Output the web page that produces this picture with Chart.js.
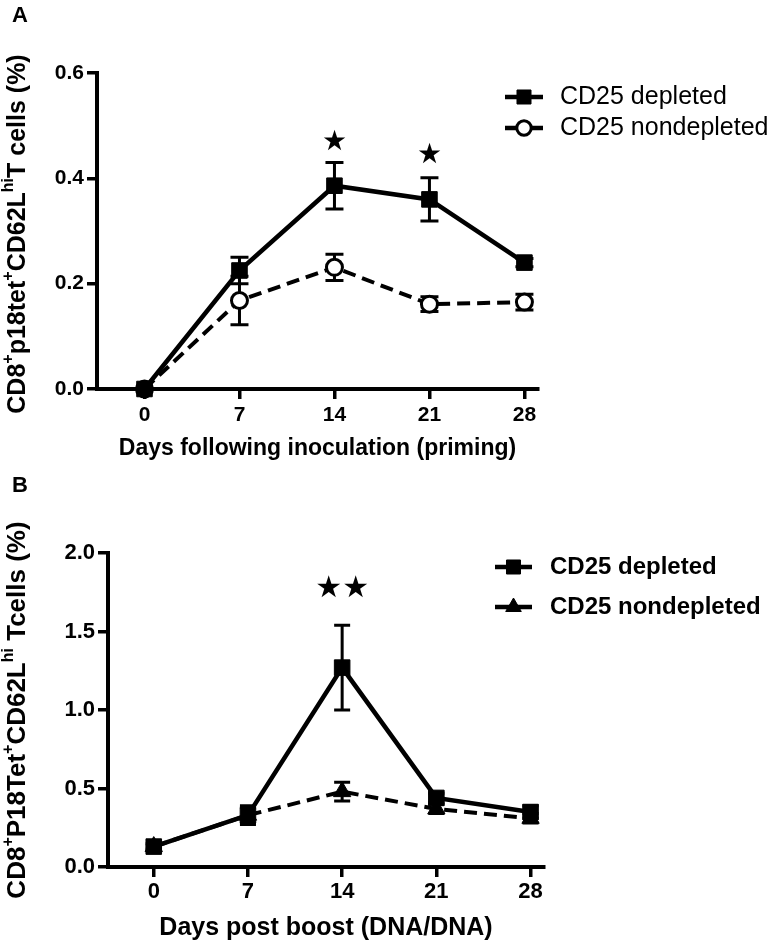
<!DOCTYPE html>
<html>
<head>
<meta charset="utf-8">
<script src="https://cdn.jsdelivr.net/npm/chart.js@4.4.1/dist/chart.umd.min.js"></script>
<style>
  body { margin: 0; background: #fff; }
  .panel { position: absolute; left: 0; width: 784px; }
  #panelA { top: 0; height: 470px; }
  #panelB { top: 470px; height: 477px; }
</style>
</head>
<body>
<div class="panel" id="panelA"><canvas id="chartA"></canvas></div>
<div class="panel" id="panelB"><canvas id="chartB"></canvas></div>
<script>
// shared x categories
const days = [0, 7, 14, 21, 28];
const seriesNames = ['CD25 depleted', 'CD25 nondepleted'];

// panel A (priming)
const depletedA = [0.0, 0.225, 0.386, 0.36, 0.24];
const depletedAErr = [0, 0.025, 0.044, 0.041, 0.008];
const nondepletedA = [0.0, 0.168, 0.231, 0.161, 0.165];
const nondepletedAErr = [0, 0.046, 0.025, 0.014, 0.015];
const yTicksA = [0, 0.2, 0.4, 0.6];
const starDaysA = [14, 21];
const starLevelA = [0.468, 0.443];
const starCountA = [1, 1];

// panel B (boost)
const depletedB = [0.13, 0.33, 1.27, 0.44, 0.35];
const depletedBErr = [0.02, 0.06, 0.27, 0.03, 0.04];
const nondepletedB = [0.13, 0.33, 0.48, 0.37, 0.31];
const nondepletedBErr = [0.01, 0.05, 0.06, 0.03, 0.03];
const yTicksB = [0, 0.5, 1.0, 1.5, 2.0];
const starDaysB = [14];
const starLevelB = [1.77];
const starCountB = [2];

const FONT = "'Liberation Sans', Arial, sans-serif";

function pts(vals) {
    return days.map((d, i) => ({ x: d, y: vals[i] }));
}

// error bars, stars, legend, rotated y title with superscripts, panel letter
function makeDecor(cfg) {
    return {
        id: 'decor',
        beforeDatasetsDraw(chart) {
            const { ctx, scales: { x, y } } = chart;
            ctx.save();
            ctx.strokeStyle = '#000';
            ctx.lineWidth = 3;
            chart.data.datasets.forEach((ds, di) => {
                const err = cfg.errors[di];
                ds.data.forEach((p, i) => {
                    if (!err[i]) return;
                    const px = x.getPixelForValue(p.x);
                    const top = y.getPixelForValue(p.y + err[i]);
                    const bot = y.getPixelForValue(p.y - err[i]);
                    ctx.beginPath();
                    ctx.moveTo(px, top); ctx.lineTo(px, bot);
                    ctx.moveTo(px - cfg.cap, top); ctx.lineTo(px + cfg.cap, top);
                    ctx.moveTo(px - cfg.cap, bot); ctx.lineTo(px + cfg.cap, bot);
                    ctx.stroke();
                });
            });
            ctx.restore();
        },
        afterDraw(chart) {
            const { ctx, scales: { x, y } } = chart;
            ctx.save();
            ctx.fillStyle = '#000';

            // significance stars
            ctx.font = cfg.starSize + "px 'DejaVu Sans'";
            ctx.textAlign = 'center';
            ctx.textBaseline = 'middle';
            cfg.stars.days.forEach((d, i) => {
                const n = cfg.stars.count[i];
                const px = x.getPixelForValue(d);
                const py = y.getPixelForValue(cfg.stars.level[i]);
                for (let k = 0; k < n; k++) {
                    ctx.fillText('★', px + (k - (n - 1) / 2) * cfg.starGap, py);
                }
            });

            // legend
            const lg = cfg.legend;
            chart.data.datasets.forEach((ds, i) => {
                const ly = lg.rows[i];
                ctx.strokeStyle = '#000';
                ctx.lineWidth = 4.5;
                ctx.setLineDash([]);
                ctx.beginPath();
                ctx.moveTo(lg.x1, ly); ctx.lineTo(lg.x2, ly);
                ctx.stroke();
                ctx.fillStyle = ds.pointBackgroundColor;
                ctx.lineWidth = ds.pointBorderWidth;
                Chart.helpers.drawPoint(ctx, {
                    pointStyle: ds.pointStyle, radius: ds.pointRadius * lg.scale,
                    borderWidth: ds.pointBorderWidth, rotation: 0
                }, (lg.x1 + lg.x2) / 2, ly);
                ctx.fillStyle = '#000';
                ctx.font = lg.font;
                ctx.textAlign = 'left';
                ctx.textBaseline = 'middle';
                ctx.fillText(ds.label, lg.textX, ly);
            });

            // y title (rotated, with superscripts)
            const t = cfg.yTitle;
            const main = 'bold ' + t.size + 'px ' + FONT;
            const sup = 'bold ' + Math.round(t.size * 0.62) + 'px ' + FONT;
            let total = 0;
            t.parts.forEach(([s, isSup]) => { ctx.font = isSup ? sup : main; total += ctx.measureText(s).width; });
            ctx.translate(t.x, t.y);
            ctx.rotate(-Math.PI / 2);
            ctx.textAlign = 'left';
            ctx.textBaseline = 'middle';
            let cx = -total / 2;
            t.parts.forEach(([s, isSup]) => {
                ctx.font = isSup ? sup : main;
                ctx.fillText(s, cx, isSup ? -t.size * 0.38 : 0);
                cx += ctx.measureText(s).width;
            });
            ctx.setTransform(1, 0, 0, 1, 0, 0);

            // panel letter
            ctx.font = 'bold 22px ' + FONT;
            ctx.textAlign = 'left';
            ctx.textBaseline = 'middle';
            ctx.fillText(cfg.letter, 12, cfg.letterY);
            ctx.restore();
        }
    };
}

function makeChart(id, p) {
    const H = document.getElementById(id).parentNode.clientHeight;
    return new Chart(document.getElementById(id), {
        type: 'line',
        data: {
            datasets: [{
                label: seriesNames[0],
                data: pts(p.dep),
                borderColor: '#000',
                borderWidth: 4.5,
                pointStyle: 'rect',
                pointRadius: 11,
                pointBackgroundColor: '#000',
                pointBorderColor: '#000',
                pointBorderWidth: 1,
                clip: false
            }, {
                label: seriesNames[1],
                data: pts(p.non),
                borderColor: '#000',
                borderWidth: 4,
                borderDash: [13, 7],
                pointStyle: p.nonStyle,
                pointRadius: p.nonRadius,
                pointBackgroundColor: p.nonFill,
                pointBorderColor: '#000',
                pointBorderWidth: p.nonBorder,
                clip: false
            }]
        },
        options: {
            responsive: true,
            maintainAspectRatio: false,
            animation: false,
            events: [],
            layout: { padding: { left: 0, top: p.top, right: 784 - p.right, bottom: 0 } },
            plugins: { legend: { display: false }, tooltip: { enabled: false } },
            scales: {
                x: {
                    type: 'linear',
                    min: p.xMin,
                    max: p.xMax,
                    afterBuildTicks: s => { s.ticks = days.map(v => ({ value: v })); },
                    afterFit: s => { s.height = H - p.bottom; },
                    grid: { drawOnChartArea: false, drawTicks: true, tickLength: 10, color: '#000', lineWidth: 3.5 },
                    border: { display: true, color: '#000', width: 4 },
                    ticks: { color: '#000', padding: p.xPad, font: { family: FONT, size: p.tickSize, weight: 'bold' } },
                    title: {
                        display: true, text: p.xTitle, color: '#000',
                        padding: { top: 0, bottom: p.xTitlePad },
                        font: { family: FONT, size: p.xTitleSize, weight: 'bold' }
                    }
                },
                y: {
                    type: 'linear',
                    min: 0,
                    max: p.yTicks[p.yTicks.length - 1],
                    afterBuildTicks: s => { s.ticks = p.yTicks.map(v => ({ value: v })); },
                    afterFit: s => { s.width = p.left; },
                    grid: { drawOnChartArea: false, drawTicks: true, tickLength: 10, color: '#000', lineWidth: 3.5 },
                    border: { display: true, color: '#000', width: 4 },
                    ticks: {
                        color: '#000', padding: 3,
                        font: { family: FONT, size: p.tickSize, weight: 'bold' },
                        callback: v => v.toFixed(1)
                    }
                }
            }
        },
        plugins: [makeDecor(p.decor)]
    });
}

makeChart('chartA', {
    dep: depletedA, non: nondepletedA,
    nonStyle: 'circle', nonRadius: 8, nonFill: '#fff', nonBorder: 3,
    yTicks: yTicksA, xMin: -3.5, xMax: 29,
    left: 97, right: 538, top: 73, bottom: 389,
    tickSize: 21, xPad: 4, xTitle: 'Days following inoculation (priming)', xTitleSize: 23, xTitlePad: 8,
    decor: {
        errors: [depletedAErr, nondepletedAErr], cap: 9,
        stars: { days: starDaysA, level: starLevelA, count: starCountA },
        starSize: 28, starGap: 26,
        legend: { x1: 505, x2: 543, textX: 560, rows: [97, 128], scale: 0.9, font: '25px ' + FONT },
        yTitle: {
            x: 18, y: 234, size: 25,
            parts: [['CD8', 0], ['+', 1], ['p18tet', 0], ['+', 1], ['CD62L', 0], ['hi', 1], ['T cells (%)', 0]]
        },
        letter: 'A', letterY: 16
    }
});

makeChart('chartB', {
    dep: depletedB, non: nondepletedB,
    nonStyle: 'triangle', nonRadius: 10, nonFill: '#000', nonBorder: 1,
    yTicks: yTicksB, xMin: -3.4, xMax: 29,
    left: 108, right: 544, top: 83, bottom: 397,
    tickSize: 22, xPad: 2, xTitle: 'Days post boost (DNA/DNA)', xTitleSize: 25, xTitlePad: 4,
    decor: {
        errors: [depletedBErr, nondepletedBErr], cap: 8,
        stars: { days: starDaysB, level: starLevelB, count: starCountB },
        starSize: 30, starGap: 27,
        legend: { x1: 495, x2: 532, textX: 550, rows: [97, 137], scale: 0.9, font: 'bold 24px ' + FONT },
        yTitle: {
            x: 18, y: 240, size: 26,
            parts: [['CD8', 0], ['+', 1], ['P18Tet', 0], ['+', 1], ['CD62L', 0], ['hi', 1], [' Tcells (%)', 0]]
        },
        letter: 'B', letterY: 16
    }
});
</script>
</body>
</html>
